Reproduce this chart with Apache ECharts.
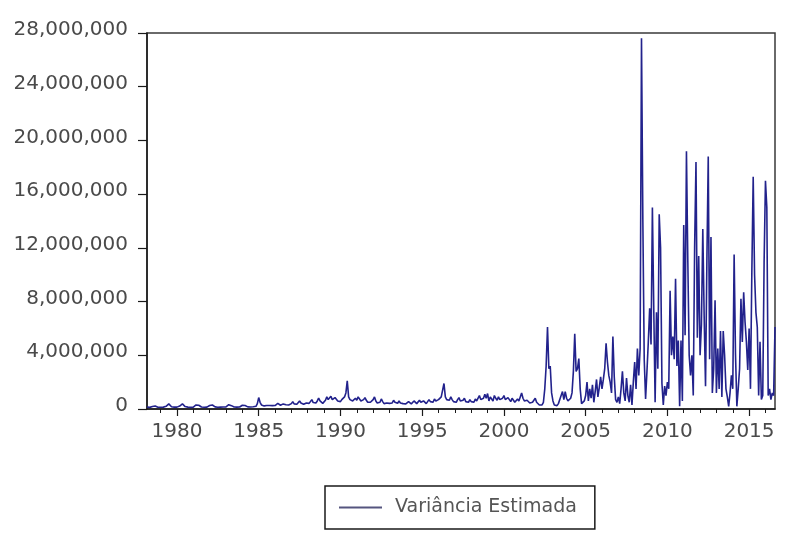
<!DOCTYPE html>
<html>
<head>
<meta charset="utf-8">
<script src="https://cdn.jsdelivr.net/npm/echarts@6/dist/echarts.min.js"></script>
<style>html,body{margin:0;padding:0;background:#fff}#c{width:796px;height:542px}</style>
</head>
<body>
<div id="c"></div>
<script>
// Monthly series, 1978-03 .. 2016-08
const startYear = 1978, startMonth = 3, nMonths = 462;
const v1978_1984 = [
150000,140000,120000,130000,180000,300000,220000,150000,130000,120000,
130000,120000,140000,160000,200000,280000,380000,250000,170000,150000,140000,130000,
140000,160000,220000,340000,380000,260000,180000,150000,140000,130000,120000,130000,
140000,180000,300000,380000,280000,190000,150000,140000,130000,130000,140000,150000,
260000,390000,300000,200000,160000,140000,130000,130000,140000,140000,150000,150000,
160000,200000,320000,360000,250000,180000,150000,140000,140000,150000,150000,160000,
280000,360000,260000,190000,160000,150000,150000,160000,170000,180000,200000,400000
];
const v1985_1989 = [
850000,500000,300000,250000,230000,220000,260000,320000,260000,230000,250000,280000,
260000,300000,420000,350000,280000,300000,380000,450000,320000,280000,300000,350000,
400000,550000,380000,320000,350000,420000,600000,450000,380000,350000,400000,450000,
380000,420000,550000,700000,480000,400000,450000,600000,820000,600000,480000,420000,
500000,650000,900000,700000,800000,950000,700000,600000,850000,750000,600000,500000
];
const v1990_1999 = [
550000,700000,650000,900000,1200000,2100000,900000,700000,650000,600000,700000,800000,
650000,900000,800000,600000,550000,700000,850000,650000,500000,450000,500000,600000,
700000,900000,600000,450000,400000,500000,750000,550000,400000,380000,450000,500000,
420000,380000,450000,650000,500000,400000,420000,600000,450000,380000,400000,420000,
380000,420000,550000,450000,380000,420000,600000,500000,400000,420000,650000,500000,
420000,600000,480000,400000,420000,700000,550000,450000,500000,750000,600000,500000,
700000,800000,900000,1000000,1900000,900000,700000,600000,650000,900000,700000,550000,
600000,500000,700000,850000,600000,500000,650000,800000,550000,450000,500000,700000,
550000,450000,500000,750000,600000,480000,1000000,700000,600000,800000,1100000,800000,
1150000,600000,900000,750000,600000,1000000,800000,650000,900000,700000,600000,800000
];
const v2000_2007 = [
1000000,700000,600000,850000,700000,550000,800000,650000,500000,600000,750000,600000,
900000,1200000,800000,600000,500000,650000,550000,450000,400000,500000,600000,800000,
500000,400000,300000,250000,300000,500000,1500000,3200000,6100000,3000000,3200000,1200000,
600000,300000,200000,250000,400000,300000,1000000,1300000,700000,1300000,800000,600000,
500000,800000,1200000,2800000,5600000,2800000,3000000,3750000,1500000,400000,300000,600000,
1000000,2000000,600000,1500000,800000,1800000,500000,1300000,2200000,900000,1600000,2400000,
1500000,2200000,3000000,4900000,3500000,2500000,2000000,1200000,5400000,2400000,700000,500000,
900000,400000,1500000,2800000,1200000,600000,2300000,1000000,500000,1800000,300000,2000000
];
const v2008_2016 = [
3500000,1500000,4500000,2500000,4500000,27600000,13900000,3700000,750000,2800000,5000000,7500000,
4800000,15000000,7500000,500000,7200000,3000000,14500000,12000000,1900000,300000,1700000,1000000,
2000000,1500000,8800000,4000000,5400000,3700000,9700000,3200000,5100000,200000,5100000,600000,
13700000,5500000,19200000,11000000,4000000,2500000,4000000,1000000,12000000,18400000,5300000,11400000,
4000000,6300000,13400000,6900000,1700000,11000000,18800000,3700000,12800000,1200000,3000000,8100000,
1200000,4500000,1500000,5800000,900000,5800000,4000000,1500000,900000,200000,1200000,2500000,
1500000,11500000,4100000,200000,1500000,3000000,8200000,5000000,8700000,6500000,5000000,2900000,
6000000,1500000,10200000,17300000,10000000,7200000,6100000,1000000,5000000,700000,1000000,10900000,
17000000,15000000,1000000,1500000,700000,1200000,1000000,6100000
];
const yTicks = [0, 4000000, 8000000, 12000000, 16000000, 20000000, 24000000, 28000000];
const seriesName = 'Variância Estimada';

const values = [].concat(v1978_1984, v1985_1989, v1990_1999, v2000_2007, v2008_2016);
const months = [];
for (let k = 0; k < nMonths; k++) {
  const t = (startMonth - 1) + k;
  const y = startYear + Math.floor(t / 12);
  const m = (t % 12) + 1;
  months.push(y + '-' + (m < 10 ? '0' + m : m));
}
const isJan = (i) => months[i].endsWith('-01');
const isMajor = (i) => isJan(i) && (+months[i].slice(0, 4)) % 5 === 0;

const font = "'DejaVu Sans', 'Liberation Sans', sans-serif";
const chart = echarts.init(document.getElementById('c'));
chart.setOption({
  animation: false,
  backgroundColor: '#fff',
  grid: { left: 147, top: 33, right: 21, bottom: 133, show: true, borderColor: '#3a3a3a', borderWidth: 1.5, containLabel: false },
  legend: {
    left: 325, top: 486,
    data: [seriesName],
    icon: 'rect',
    padding: [11, 18, 11, 14],
    borderColor: '#1a1a1a', borderWidth: 1.5,
    itemWidth: 43, itemHeight: 2, itemGap: 10,
    itemStyle: { color: '#55557f' },
    textStyle: { fontFamily: font, fontSize: 19, lineHeight: 21, color: '#555', padding: [0, 0, 0, 8] }
  },
  xAxis: [{
    type: 'category', data: months, boundaryGap: false, position: 'bottom',
    axisLine: { show: true, lineStyle: { color: '#1a1a1a', width: 1.5 } },
    axisTick: { show: true, interval: (i) => isJan(i), length: 4, lineStyle: { color: '#1a1a1a', width: 1 } },
    axisLabel: { show: false },
    splitLine: { show: false }
  }, {
    type: 'category', data: months, boundaryGap: false, position: 'bottom',
    axisLine: { show: false },
    axisTick: { show: true, interval: (i) => isMajor(i), length: 7, lineStyle: { color: '#1a1a1a', width: 1.2 } },
    axisLabel: { show: true, interval: (i) => isMajor(i), formatter: (v) => v.slice(0, 4), margin: 13, fontFamily: font, fontSize: 20, color: '#4a4a4a' },
    splitLine: { show: false }
  }],
  yAxis: {
    type: 'value', min: yTicks[0], max: yTicks[yTicks.length - 1], interval: yTicks[1] - yTicks[0],
    axisLine: { show: true, lineStyle: { color: '#1a1a1a', width: 1.5 } },
    axisTick: { show: true, length: 9, lineStyle: { color: '#1a1a1a', width: 1.2 } },
    axisLabel: { margin: 19, fontFamily: font, fontSize: 20, color: '#4a4a4a', verticalAlign: 'bottom', lineHeight: 6,
      formatter: (v) => v.toLocaleString('en-US') },
    splitLine: { show: false }
  },
  series: [{
    name: seriesName, type: 'line', xAxisIndex: 0, data: values,
    symbol: 'none', lineStyle: { color: '#22228c', width: 1.6 }, itemStyle: { color: '#55557f' }
  }]
});
</script>
</body>
</html>
